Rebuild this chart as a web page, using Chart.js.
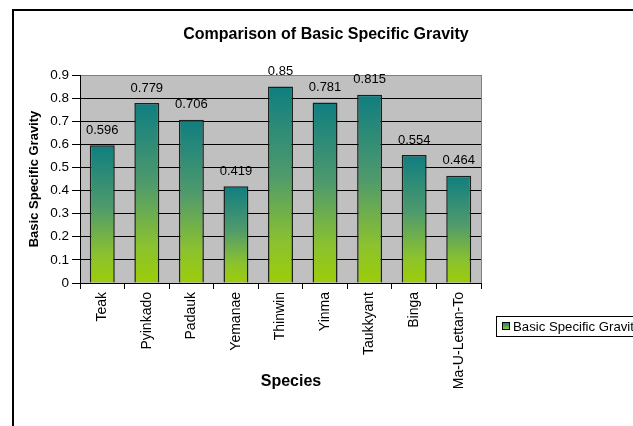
<!DOCTYPE html>
<html>
<head>
<meta charset="utf-8">
<script src="https://cdn.jsdelivr.net/npm/chart.js@4/dist/chart.umd.min.js"></script>
<style>
  html, body { margin: 0; padding: 0; background: #ffffff; }
  #wrap { width: 633px; height: 426px; }
</style>
</head>
<body>
<div id="wrap"><canvas id="c" width="633" height="426"></canvas></div>
<script>
// Basic specific gravity by timber species
const species = ['Teak', 'Pyinkado', 'Padauk', 'Yemanae', 'Thinwin', 'Yinma', 'Taukkyant', 'Binga', 'Ma-U-Lettan-To'];
const gravity = [0.596, 0.779, 0.706, 0.419, 0.85, 0.781, 0.815, 0.554, 0.464];
const seriesName = 'Basic Specific Gravity';
const chartTitle = 'Comparison of Basic Specific Gravity';
const xCaption = 'Species';
const yTicks = [0, 0.1, 0.2, 0.3, 0.4, 0.5, 0.6, 0.7, 0.8, 0.9];

const FONT = '"Liberation Sans", Arial, sans-serif';
const gradStops = [[0, '#0f7e80'], [0.45, '#4f9a6c'], [0.8, '#8cc22e'], [1, '#9ccd08']];

function barGradient(ctx2d, top, bottom) {
  const g = ctx2d.createLinearGradient(0, top, 0, bottom);
  gradStops.forEach(([p, c]) => g.addColorStop(p, c));
  return g;
}

// plot background, outer frame, title, value labels, legend and x caption
const decor = {
  id: 'decor',
  beforeDraw(chart) {
    const { ctx, chartArea: a } = chart;
    ctx.save();
    ctx.fillStyle = '#ffffff';
    ctx.fillRect(0, 0, chart.width, chart.height);
    ctx.fillStyle = '#c0c0c0';
    ctx.fillRect(a.left, a.top, a.right - a.left, a.bottom - a.top);
    ctx.strokeStyle = '#808080';
    ctx.lineWidth = 1;
    ctx.beginPath();
    ctx.moveTo(a.right + 0.5, a.top);
    ctx.lineTo(a.right + 0.5, a.bottom);
    ctx.stroke();
    // outer frame
    ctx.strokeStyle = '#000000';
    ctx.lineWidth = 2;
    ctx.beginPath();
    ctx.moveTo(13, chart.height + 2);
    ctx.lineTo(13, 10);
    ctx.lineTo(chart.width + 2, 10);
    ctx.stroke();
    // title
    ctx.fillStyle = '#000000';
    ctx.font = 'bold 16px ' + FONT;
    ctx.textAlign = 'center';
    ctx.textBaseline = 'middle';
    ctx.fillText(chartTitle, 326, 35);
    ctx.restore();
  },
  afterDatasetsDraw(chart) {
    const { ctx } = chart;
    const meta = chart.getDatasetMeta(0);
    ctx.save();
    ctx.fillStyle = '#000000';
    ctx.font = '13px ' + FONT;
    ctx.textAlign = 'center';
    ctx.textBaseline = 'middle';
    meta.data.forEach((bar, i) => {
      ctx.fillText(String(gravity[i]), bar.x, bar.y - 15);
    });
    ctx.restore();
  },
  afterDraw(chart) {
    const { ctx } = chart;
    ctx.save();
    // x axis caption
    ctx.fillStyle = '#000000';
    ctx.font = 'bold 16px ' + FONT;
    ctx.textAlign = 'center';
    ctx.textBaseline = 'middle';
    ctx.fillText(xCaption, 291, 382);
    // legend
    ctx.strokeStyle = '#000000';
    ctx.lineWidth = 1;
    ctx.strokeRect(496.5, 316.5, 160, 20);
    ctx.fillStyle = barGradient(ctx, 322, 330);
    ctx.fillRect(502, 322, 8, 8);
    ctx.strokeRect(502.5, 322.5, 7, 7);
    ctx.fillStyle = '#000000';
    ctx.font = '13.2px ' + FONT;
    ctx.textAlign = 'left';
    ctx.fillText(seriesName, 513, 327);
    ctx.restore();
  }
};

new Chart(document.getElementById('c'), {
  type: 'bar',
  data: {
    labels: species,
    datasets: [{
      label: seriesName,
      data: gravity,
      backgroundColor(ctx) {
        const chart = ctx.chart;
        if (!chart.chartArea || ctx.type !== 'data') return gradStops[0][1];
        const y = chart.scales.y;
        return barGradient(chart.ctx, y.getPixelForValue(ctx.parsed.y), y.getPixelForValue(0));
      },
      borderColor: '#1a1f1a',
      borderWidth: 1.5,
      barPercentage: 0.56,
      categoryPercentage: 1
    }]
  },
  options: {
    responsive: false,
    animation: false,
    devicePixelRatio: 1,
    layout: { padding: { left: 12, right: 152, top: 75, bottom: 0 } },
    plugins: {
      legend: { display: false },
      tooltip: { enabled: false },
      title: { display: false }
    },
    scales: {
      x: {
        offset: true,
        grid: { display: true, drawOnChartArea: false, offset: true, color: '#000000', tickLength: 6 },
        border: { color: '#000000', width: 1 },
        ticks: {
          color: '#000000',
          font: { family: FONT, size: 14 },
          minRotation: 90,
          maxRotation: 90,
          padding: 3,
          autoSkip: false
        },
        afterFit(scale) { scale.height = 143; }
      },
      y: {
        min: 0,
        max: 0.9,
        afterBuildTicks(scale) { scale.ticks = yTicks.map(v => ({ value: v })); },
        grid: {
          color: (c) => (c.tick && c.tick.value === 0.9 ? '#808080' : '#000000'),
          tickColor: '#000000',
          tickLength: 8,
          lineWidth: 1
        },
        border: { color: '#000000', width: 1 },
        ticks: {
          color: '#000000',
          font: { family: FONT, size: 13.5 },
          padding: 3,
          callback: (v) => String(Math.round(v * 10) / 10)
        },
        title: {
          display: true,
          text: 'Basic Specific Gravity',
          color: '#000000',
          font: { family: FONT, size: 13, weight: 'bold' },
          padding: { top: 15, bottom: 0 }
        },
        afterFit(scale) { scale.width = 68; }
      }
    }
  },
  plugins: [decor]
});
</script>
</body>
</html>
